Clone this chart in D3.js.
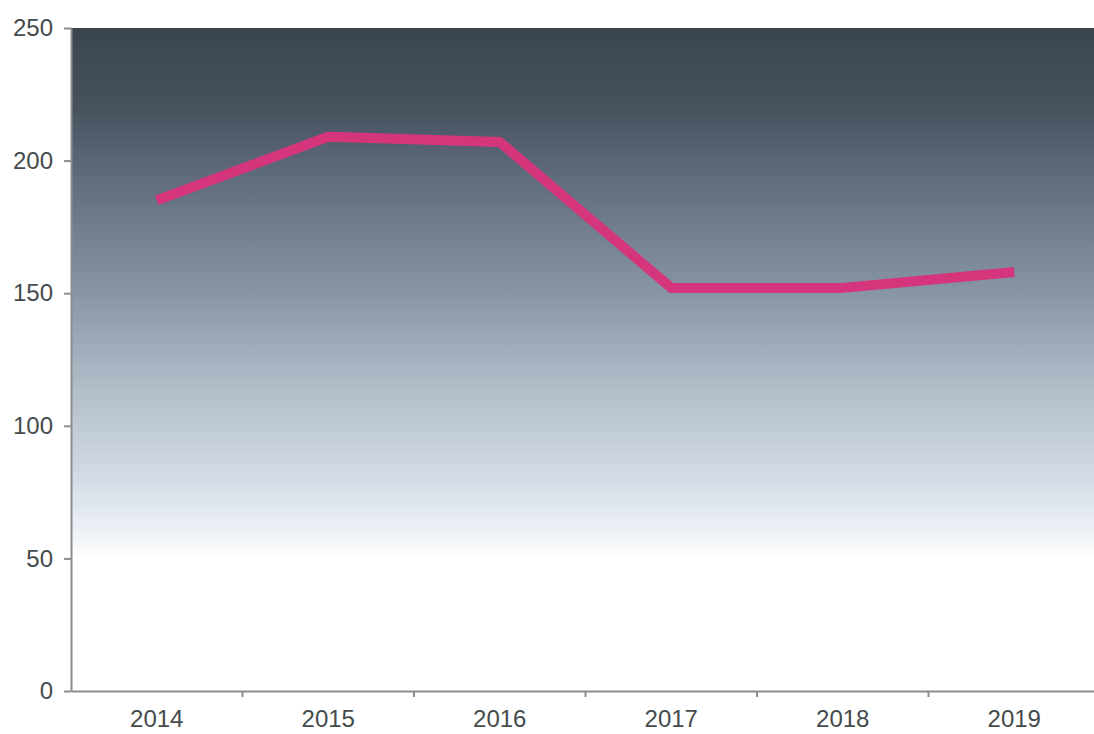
<!DOCTYPE html>
<html>
<head>
<meta charset="utf-8">
<script src="https://cdn.jsdelivr.net/npm/d3@7"></script>
<style>
  body { margin: 0; background: #fff; }
  svg { display: block; }
  .axis text { font-family: "Liberation Sans", Arial, sans-serif; font-size: 24px; fill: #454b4b; }
  .axis path, .axis line { stroke: #8a8e8e; stroke-width: 2; }
</style>
</head>
<body>
<div id="chart"></div>
<script>
// data
const years = ["2014", "2015", "2016", "2017", "2018", "2019"];
const values = [185, 209, 207, 152, 152, 158];
const yTicks = [0, 50, 100, 150, 200, 250];

// dimensions
const svgWidth = 1094,
    svgHeight = 734,
    margin = { top: 28, right: -6, bottom: 43, left: 71 },
    width = svgWidth - margin.left - margin.right,
    height = svgHeight - margin.top - margin.bottom;

const svg = d3.select("#chart")
    .append("svg")
    .attr("width", svgWidth)
    .attr("height", svgHeight);

const g = svg.append("g")
    .attr("transform", `translate(${margin.left}, ${margin.top})`);

// scales
const x = d3.scaleBand()
    .domain(years)
    .range([0, width]);

const y = d3.scaleLinear()
    .domain([0, 250])
    .range([height, 0]);

// background gradient (dark slate at top fading to white)
const grad = svg.append("defs")
    .append("linearGradient")
    .attr("id", "bg")
    .attr("x1", 0).attr("y1", 0)
    .attr("x2", 0).attr("y2", 1);

const stops = [
    [0, "#3b454e"],
    [0.12, "#47525e"],
    [0.2, "#5a6676"],
    [0.38, "#8390a0"],
    [0.56, "#b6c1cd"],
    [0.68, "#d3dce6"],
    [0.76, "#eef2f7"],
    [0.8, "#ffffff"],
    [1, "#ffffff"]
];
grad.selectAll("stop")
    .data(stops)
    .join("stop")
    .attr("offset", d => d[0])
    .attr("stop-color", d => d[1]);

g.append("rect")
    .attr("x", 0)
    .attr("y", 0)
    .attr("width", width)
    .attr("height", height)
    .attr("fill", "url(#bg)");

// y axis
const yAxis = g.append("g")
    .attr("class", "axis")
    .call(d3.axisLeft(y).tickValues(yTicks).tickSize(7).tickPadding(11).tickSizeOuter(0));

// x axis, ticks at the category boundaries
const xAxis = g.append("g")
    .attr("class", "axis")
    .attr("transform", `translate(0,${height})`)
    .call(d3.axisBottom(x).tickSize(0).tickPadding(19).tickSizeOuter(0));

xAxis.selectAll(".boundary")
    .data(years.slice(1))
    .join("line")
    .attr("class", "boundary")
    .attr("x1", d => x(d))
    .attr("x2", d => x(d))
    .attr("y1", 0)
    .attr("y2", 6);

// line
const line = d3.line()
    .x((d, i) => x(years[i]) + x.bandwidth() / 2)
    .y(d => y(d));

g.append("path")
    .datum(values)
    .attr("fill", "none")
    .attr("stroke", "#d5357a")
    .attr("stroke-width", 10)
    .attr("stroke-linejoin", "round")
    .attr("d", line);
</script>
</body>
</html>
